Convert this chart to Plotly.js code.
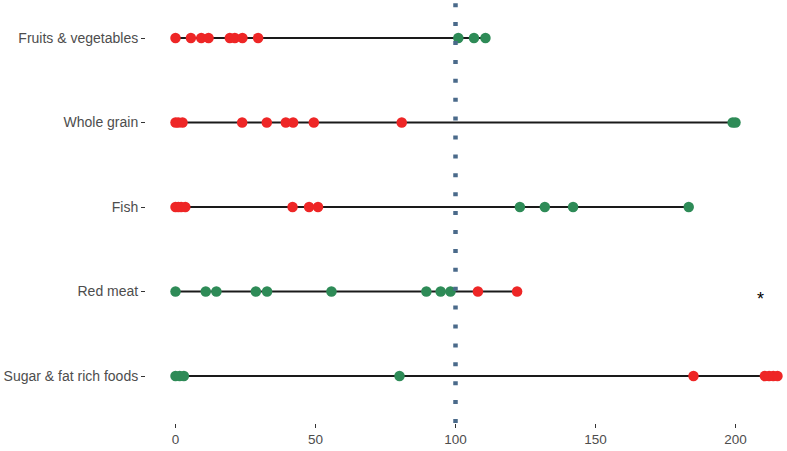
<!DOCTYPE html>
<html>
<head>
<meta charset="utf-8">
<script src="https://cdn.plot.ly/plotly-3.0.1.min.js"></script>
<style>
  html, body { margin: 0; padding: 0; background: #fff; }
  #chart { width: 787px; height: 451px; }
</style>
</head>
<body>
<div id="chart"></div>
<script>
// food groups, bottom to top
var foods = ["Sugar & fat rich foods", "Red meat", "Fish", "Whole grain", "Fruits & vegetables"];

// values per food, split by colour (red = off target, green = on target)
var sugarGreen = [0, 1.5, 3, 80];
var sugarRed = [185, 210.5, 212, 213.5, 215];
var meatGreen = [0, 10.8, 14.6, 28.7, 32.7, 55.7, 89.6, 94.7, 98.2];
var meatRed = [108, 122];
var fishRed = [0, 1, 2, 3.5, 41.8, 47.7, 50.9];
var fishGreen = [123, 131.9, 142, 183.3];
var grainRed = [0, 1, 2.5, 23.8, 32.6, 39.4, 42, 49.4, 80.8];
var grainGreen = [199, 200];
var fruitRed = [0, 5.5, 9.2, 11.8, 19.4, 21.2, 23.9, 29.5];
var fruitGreen = [101, 106.6, 110.7];

var xTicks = [0, 50, 100, 150, 200];
var refValue = 100;

var redSets = [sugarRed, meatRed, fishRed, grainRed, fruitRed];
var greenSets = [sugarGreen, meatGreen, fishGreen, grainGreen, fruitGreen];

// build traces
var lineX = [], lineY = [];
var redX = [], redY = [], greenX = [], greenY = [];
foods.forEach(function(f, i) {
  var all = redSets[i].concat(greenSets[i]);
  lineX.push(Math.min.apply(null, all), Math.max.apply(null, all), null);
  lineY.push(f, f, null);
  redSets[i].forEach(function(v) { redX.push(v); redY.push(f); });
  greenSets[i].forEach(function(v) { greenX.push(v); greenY.push(f); });
});

var data = [
  {x: lineX, y: lineY, mode: "lines", type: "scatter",
   line: {color: "#1a1a1a", width: 1.8}, hoverinfo: "skip"},
  {x: redX, y: redY, mode: "markers", type: "scatter",
   marker: {color: "#EE2626", size: 10.5}},
  {x: greenX, y: greenY, mode: "markers", type: "scatter",
   marker: {color: "#2E8B57", size: 10.5}}
];

var layout = {
  width: 787, height: 451,
  margin: {l: 146, r: 0, t: 0, b: 28},
  paper_bgcolor: "#fff", plot_bgcolor: "#fff",
  showlegend: false,
  font: {family: "Liberation Sans, Arial, sans-serif", size: 13, color: "#4d4d4d"},
  xaxis: {
    range: [-10.54, 218.4],
    tickvals: xTicks,
    tickfont: {size: 13.5},
    ticks: "outside", ticklen: 4, tickcolor: "#333", tickwidth: 1,
    showgrid: false, zeroline: false, showline: false
  },
  yaxis: {
    type: "category",
    categoryorder: "array", categoryarray: foods,
    range: [-0.556, 4.45],
    tickfont: {size: 14},
    ticks: "outside", ticklen: 4, tickcolor: "#333", tickwidth: 1,
    showgrid: false, zeroline: false, showline: false
  },
  shapes: [{
    type: "line", xref: "x", yref: "paper",
    x0: refValue, x1: refValue, y0: 0, y1: 1,
    line: {color: "#4A6A8A", width: 4.5, dash: "4px,14.9px"},
    layer: "above"
  }],
  annotations: [{
    x: 208.8, y: 0.265, xref: "x", yref: "paper",
    text: "*", showarrow: false,
    font: {size: 18, color: "#000"}
  }]
};

Plotly.newPlot("chart", data, layout, {displayModeBar: false});
</script>
</body>
</html>
